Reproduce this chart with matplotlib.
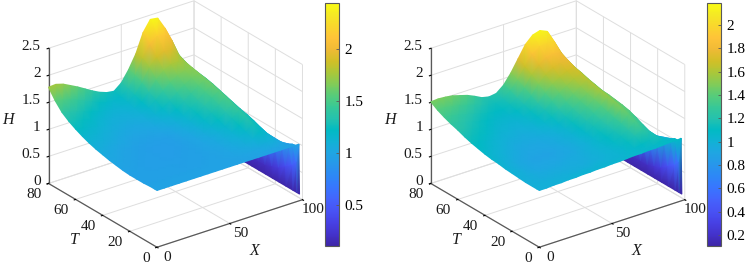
import numpy as np
import matplotlib
matplotlib.use("Agg")
import matplotlib.pyplot as plt
from matplotlib.colors import LinearSegmentedColormap, Normalize
from matplotlib.cm import ScalarMappable
from matplotlib.tri import Triangulation
from mpl_toolkits.mplot3d import proj3d

plt.rcParams['font.family'] = ['Liberation Serif', 'DejaVu Serif']

x_nodes = [0, 5, 10, 15, 20, 25, 30, 35, 40, 45, 50, 55, 60, 65, 70, 75, 80, 85, 90, 95, 97.5, 98]
t_nodes = [0, 2, 5, 10, 15, 20, 25, 30, 35, 40, 45, 50, 55, 60, 65, 70, 75, 80]

h_left = [
 [1.05,1.05,1.05,1.05,1.05,1.05,1.05,1.05,1.05,1.05,1.05,1.05,1.05,1.05,1.05,1.05,1.05,1.05,1.05,1.05,1.05,.12],
 [1.05,1.05,1.05,1.05,1.05,1.05,1.05,1.05,1.05,1.05,1.05,1.05,1.05,1.06,1.06,1.07,1.07,1.08,1.06,1.04,.7,.12],
 [1.05,1.05,1.05,1.05,1.05,1.05,1.05,1.05,1.05,1.05,1.05,1.05,1.06,1.07,1.08,1.10,1.16,1.17,1.08,1.00,.6,.12],
 [1.04,1.04,1.04,1.04,1.04,1.04,1.04,1.04,1.04,1.05,1.05,1.06,1.07,1.10,1.13,1.18,1.27,1.21,1.08,.94,.5,.12],
 [1.04,1.04,1.04,1.04,1.04,1.04,1.03,1.04,1.04,1.04,1.05,1.06,1.08,1.12,1.17,1.24,1.35,1.25,1.08,.85,.4,.12],
 [1.04,1.04,1.04,1.03,1.03,1.03,1.03,1.03,1.04,1.04,1.05,1.07,1.10,1.14,1.20,1.29,1.41,1.30,1.07,.75,.35,.12],
 [1.05,1.05,1.04,1.03,1.03,1.03,1.02,1.02,1.03,1.04,1.05,1.07,1.11,1.17,1.24,1.34,1.46,1.34,1.08,.7,.3,.12],
 [1.07,1.06,1.05,1.04,1.03,1.03,1.02,1.02,1.02,1.03,1.05,1.08,1.13,1.21,1.29,1.39,1.51,1.37,1.10,.65,.3,.12],
 [1.09,1.08,1.06,1.05,1.04,1.03,1.02,1.02,1.02,1.03,1.06,1.10,1.16,1.25,1.34,1.45,1.56,1.41,1.13,.65,.3,.12],
 [1.12,1.10,1.08,1.06,1.05,1.04,1.03,1.03,1.03,1.04,1.07,1.12,1.19,1.30,1.40,1.50,1.60,1.45,1.17,.65,.3,.12],
 [1.15,1.13,1.11,1.09,1.08,1.06,1.05,1.05,1.05,1.07,1.10,1.15,1.23,1.33,1.43,1.54,1.64,1.49,1.20,.7,.3,.12],
 [1.19,1.17,1.15,1.13,1.11,1.09,1.08,1.08,1.08,1.10,1.15,1.20,1.28,1.38,1.48,1.58,1.67,1.53,1.24,.7,.3,.12],
 [1.24,1.21,1.19,1.16,1.14,1.12,1.11,1.10,1.11,1.13,1.19,1.26,1.36,1.47,1.57,1.65,1.70,1.56,1.27,.75,.35,.12],
 [1.30,1.27,1.24,1.21,1.18,1.15,1.14,1.13,1.14,1.17,1.24,1.34,1.47,1.58,1.67,1.72,1.73,1.58,1.30,.75,.35,.12],
 [1.37,1.33,1.30,1.26,1.22,1.19,1.17,1.16,1.17,1.20,1.28,1.42,1.60,1.73,1.80,1.81,1.76,1.60,1.31,.8,.35,.12],
 [1.46,1.42,1.38,1.34,1.29,1.25,1.22,1.20,1.20,1.24,1.33,1.52,1.76,1.90,1.97,1.95,1.82,1.64,1.33,.8,.4,.12],
 [1.60,1.57,1.53,1.48,1.42,1.36,1.30,1.26,1.24,1.27,1.38,1.58,1.86,2.06,2.18,2.15,2.02,1.70,1.34,.85,.4,.12],
 [1.78,1.79,1.75,1.68,1.61,1.53,1.45,1.38,1.33,1.31,1.42,1.62,1.87,2.22,2.42,2.40,2.17,1.79,1.35,.85,.4,.12],
]
h_right = [
 [1.05,1.05,1.06,1.06,1.07,1.07,1.08,1.08,1.09,1.09,1.10,1.10,1.11,1.12,1.12,1.13,1.13,1.14,1.15,1.15,1.16,.12],
 [1.05,1.05,1.05,1.06,1.06,1.07,1.07,1.08,1.08,1.09,1.09,1.10,1.10,1.11,1.12,1.12,1.13,1.17,1.14,1.14,.7,.12],
 [1.05,1.05,1.05,1.05,1.05,1.05,1.05,1.06,1.06,1.07,1.07,1.08,1.09,1.11,1.13,1.16,1.19,1.23,1.14,1.10,.6,.12],
 [1.05,1.04,1.03,1.03,1.03,1.03,1.03,1.03,1.03,1.04,1.05,1.07,1.09,1.12,1.17,1.24,1.32,1.25,1.12,1.05,.5,.12],
 [1.06,1.04,1.03,1.01,1.01,1.01,1.01,1.02,1.02,1.03,1.05,1.07,1.10,1.14,1.20,1.28,1.40,1.30,1.10,.9,.4,.12],
 [1.07,1.05,1.02,1.00,.99,.99,.99,1.00,1.01,1.02,1.04,1.07,1.11,1.16,1.23,1.32,1.45,1.36,1.09,.8,.35,.12],
 [1.08,1.05,1.02,1.00,.98,.98,.98,.98,.99,1.00,1.03,1.06,1.11,1.18,1.26,1.35,1.50,1.41,1.09,.75,.3,.12],
 [1.10,1.06,1.03,1.00,.98,.97,.97,.97,.98,1.00,1.03,1.07,1.13,1.21,1.29,1.39,1.54,1.44,1.10,.7,.3,.12],
 [1.11,1.08,1.05,1.02,1.00,.98,.98,.98,.99,1.01,1.04,1.08,1.15,1.24,1.33,1.43,1.57,1.46,1.12,.65,.3,.12],
 [1.13,1.10,1.07,1.04,1.02,1.00,.99,.99,1.00,1.02,1.05,1.10,1.18,1.28,1.38,1.48,1.60,1.48,1.14,.65,.3,.12],
 [1.16,1.13,1.10,1.07,1.04,1.02,1.01,1.01,1.02,1.04,1.07,1.13,1.21,1.32,1.42,1.52,1.63,1.49,1.17,.7,.3,.12],
 [1.19,1.16,1.13,1.10,1.07,1.05,1.04,1.03,1.04,1.07,1.11,1.18,1.27,1.37,1.47,1.57,1.66,1.52,1.20,.7,.3,.12],
 [1.23,1.20,1.17,1.14,1.11,1.08,1.07,1.06,1.07,1.10,1.15,1.23,1.35,1.46,1.55,1.64,1.70,1.55,1.22,.75,.35,.12],
 [1.28,1.25,1.21,1.18,1.15,1.12,1.10,1.09,1.09,1.12,1.18,1.28,1.43,1.55,1.64,1.71,1.74,1.59,1.25,.75,.35,.12],
 [1.32,1.30,1.26,1.23,1.19,1.16,1.13,1.12,1.12,1.16,1.23,1.35,1.52,1.65,1.74,1.78,1.80,1.62,1.28,.8,.35,.12],
 [1.37,1.35,1.32,1.29,1.25,1.21,1.18,1.16,1.16,1.20,1.28,1.42,1.62,1.76,1.85,1.88,1.85,1.67,1.32,.85,.4,.12],
 [1.43,1.43,1.41,1.38,1.34,1.30,1.25,1.21,1.20,1.23,1.34,1.50,1.70,1.88,1.98,2.00,2.00,1.74,1.33,.85,.4,.12],
 [1.51,1.52,1.51,1.49,1.45,1.41,1.35,1.28,1.25,1.27,1.38,1.56,1.78,2.00,2.13,2.17,2.11,1.82,1.35,.85,.4,.12],
]
x_ticks = [0, 50, 100]
t_ticks = [0, 20, 40, 60, 80]
h_ticks = [0, 0.5, 1, 1.5, 2, 2.5]
x_ticklabels = ['0', '50', '100']
t_ticklabels = ['0', '20', '40', '60', '80']
h_ticklabels = ['0', '0.5', '1', '1.5', '2', '2.5']
cb_left_ticks = [0.5, 1, 1.5, 2]
cb_left_labels = ['0.5', '1', '1.5', '2']
cb_right_ticks = [0.2, 0.4, 0.6, 0.8, 1, 1.2, 1.4, 1.6, 1.8, 2]
cb_right_labels = ['0.2', '0.4', '0.6', '0.8', '1', '1.2', '1.4', '1.6', '1.8', '2']
left_range = (0.106, 2.445)
right_range = (0.106, 2.19)

parula = LinearSegmentedColormap.from_list('parula', [
 (0.2422,0.1504,0.6603),(0.2647,0.1978,0.7952),(0.2783,0.2559,0.8991),(0.2810,0.3228,0.9579),
 (0.2699,0.3892,0.9906),(0.2206,0.4603,0.9973),(0.1786,0.5289,0.9682),(0.1540,0.5902,0.9218),
 (0.1248,0.6459,0.8883),(0.0689,0.6948,0.8394),(0.0067,0.7312,0.7660),(0.1408,0.7584,0.6842),
 (0.2161,0.7843,0.5923),(0.3406,0.8008,0.4789),(0.5044,0.7993,0.3480),(0.6720,0.7793,0.2227),
 (0.8203,0.7498,0.1535),(0.9393,0.7288,0.2100),(0.9970,0.7659,0.2199),(0.9786,0.8386,0.1766),
 (0.9597,0.9135,0.1423),(0.9769,0.9839,0.0805)], N=256)

W, H_fig = 746, 269
fig = plt.figure(figsize=(W/100, H_fig/100), dpi=100)
FS = 11
AX_GRAY = (0.35, 0.35, 0.35)
TXT = (0.1, 0.1, 0.1)


def panel(h, rng, left_px, cb_px, cb_ticks, cb_labels, label_dx):
    S = 262.5
    rect = [left_px/W, 10.2/H_fig, S/W, S/H_fig]
    ax = fig.add_axes(rect, projection='3d')
    ax.set_proj_type('ortho')
    ax.view_init(elev=26, azim=233.3)
    ax.set_box_aspect((181, 181, 150), zoom=1.1)
    ax.patch.set_visible(False)
    ax.set_xlim(0, 100, view_margin=0)
    ax.set_ylim(0, 80, view_margin=0)
    ax.set_zlim(0, 2.5, view_margin=0)
    ax.set_xticks(x_ticks)
    ax.set_yticks(t_ticks)
    ax.set_zticks(h_ticks)
    ax.set_xticklabels([''] * len(x_ticks))
    ax.set_yticklabels([''] * len(t_ticks))
    ax.set_zticklabels([''] * len(h_ticks))
    for axis in (ax.xaxis, ax.yaxis, ax.zaxis):
        axis.set_pane_color((1, 1, 1, 0))
        axis.pane.set_edgecolor((0.85, 0.85, 0.85))
        axis.pane.set_linewidth(0.7)
        axis.line.set_color(AX_GRAY)
        axis.line.set_linewidth(0.9)
        axis._axinfo['grid'].update(color=(0.87, 0.87, 0.87), linewidth=0.7)
        axis._axinfo['tick'].update(inward_factor=0.12, outward_factor=0.0, color=AX_GRAY)

    # Gouraud-shaded surface (like MATLAB's "shading interp") on the read mesh:
    # vertices go through the 3D axes' projection, triangles are painted far to near.
    M = ax.get_proj()
    Xg, Tg = np.meshgrid(x_nodes, t_nodes)
    Hg = np.array(h)
    px, py, pz = proj3d.proj_transform(Xg.ravel(), Tg.ravel(), Hg.ravel(), M)
    nr, nc = Hg.shape
    idx = np.arange(nr*nc).reshape(nr, nc)
    a, b, c, d = idx[:-1, :-1].ravel(), idx[:-1, 1:].ravel(), idx[1:, 1:].ravel(), idx[1:, :-1].ravel()
    tris = np.vstack([np.c_[a, b, c], np.c_[a, c, d]])
    tris = tris[np.argsort(-pz[tris].mean(axis=1), kind='stable')]
    over = fig.add_axes(rect)
    over.set_axis_off()
    surf_norm = Normalize(rng[0]+0.12, rng[1])
    over.tripcolor(Triangulation(px, py, tris), Hg.ravel(), shading='gouraud', cmap=parula, norm=surf_norm)
    over.set_xlim(*ax.viewLim.intervalx)
    over.set_ylim(*ax.viewLim.intervaly)

    # Tick labels, anchored on the projected tick positions.
    def tick_text(xv, tv, hv, s, dx, dy, ha):
        tx, ty, _ = proj3d.proj_transform(xv, tv, hv, M)
        over.annotate(s, (tx, ty), xytext=(dx, dy), textcoords='offset pixels', ha=ha, va='center',
                      fontsize=FS, color=TXT, annotation_clip=False)
    for v, s in zip(x_ticks, x_ticklabels):
        tick_text(v, 0, 0, s, 10.5, -10, 'center')
    for v, s in zip(t_ticks, t_ticklabels):
        tick_text(0, v, 0, s, -7, -11, 'right')
    for v, s in zip(h_ticks, h_ticklabels):
        tick_text(0, 80, v, s, -8, 2, 'right')

    norm = Normalize(*rng)
    cax = fig.add_axes([cb_px[0]/W, 1-246/H_fig, (cb_px[1]-cb_px[0])/W, (246-3)/H_fig])
    cb = fig.colorbar(ScalarMappable(norm=norm, cmap=parula), cax=cax)
    cb.set_ticks(cb_ticks)
    cb.set_ticklabels(cb_labels)
    cb.ax.tick_params(labelsize=FS, direction='in', length=2.5, width=0.6, color=AX_GRAY, pad=4)
    cb.outline.set_edgecolor(AX_GRAY)
    cb.outline.set_linewidth(0.8)
    for s, xp, yp in (('X', 254, 251), ('T', 74, 240), ('H', 8, 120)):
        fig.text((xp+label_dx)/W, 1-yp/H_fig, s, style='italic', fontsize=FS+0.5,
                 ha='center', va='center', color=TXT)


panel(h_left, left_range, 40.7, (325, 339), cb_left_ticks, cb_left_labels, 0)
panel(h_right, right_range, 423.0, (707.3, 720.7), cb_right_ticks, cb_right_labels, 382.3)
fig.savefig('out.png', dpi=100)
